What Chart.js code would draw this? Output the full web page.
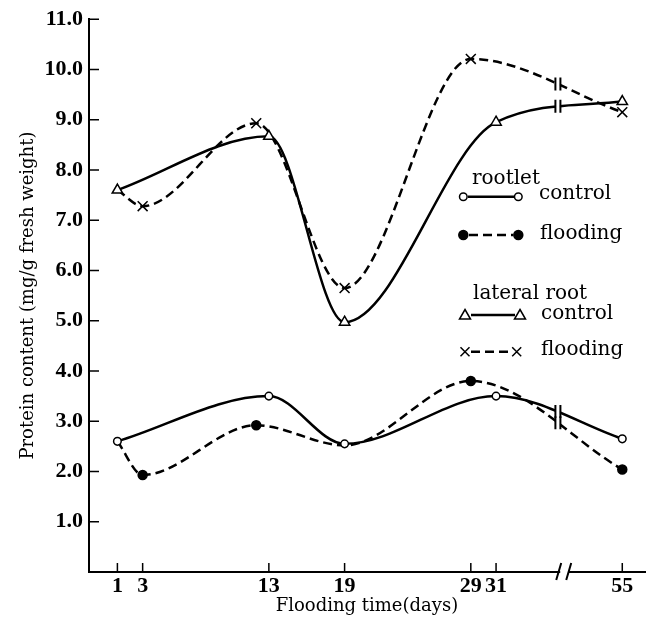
<!DOCTYPE html>
<html>
<head>
<meta charset="utf-8">
<script src="https://cdn.jsdelivr.net/npm/chart.js@4.4.1/dist/chart.umd.min.js"></script>
<style>
  body { margin: 0; background: #fff; }
  #wrap { width: 655px; height: 627px; }
</style>
</head>
<body>
<div id="wrap"><canvas id="chart"></canvas></div>
<script>
// sampling days and protein content (mg/g fresh weight)
const tickDays = [1, 3, 13, 19, 29, 31, 55];
const yTicks = [1, 2, 3, 4, 5, 6, 7, 8, 9, 10, 11];

const rootletControlDays = [1, 13, 19, 31, 55];
const rootletControl = [2.6, 3.5, 2.55, 3.5, 2.65];
const rootletFloodDays = [1, 3, 12, 19, 29, 55];
const rootletFlood = [2.6, 1.93, 2.92, 2.52, 3.8, 2.04];

const lateralControlDays = [1, 13, 19, 31, 55];
const lateralControl = [7.6, 8.67, 4.97, 8.95, 9.36];
const lateralFloodDays = [1, 3, 12, 19, 29, 55];
const lateralFlood = [7.6, 7.28, 8.93, 5.65, 10.21, 9.15];

// broken x axis: days after 35 are moved 14 days to the left
const breakAfter = 35, breakGap = 14;
const pos = d => d > breakAfter ? d - breakGap : d;
const toPoints = (days, vals) => days.map((d, i) => ({ x: pos(d), y: vals[i] }));

const serif = 'DejaVu Serif';
const tickFont = { family: 'Liberation Serif', size: 22, weight: 'bold' };

function bez(t, a, b, c, d) {
  const u = 1 - t;
  return u * u * u * a + 3 * u * u * t * b + 3 * u * t * t * c + t * t * t * d;
}

// y of the drawn curve at pixel px
function curveY(meta, px) {
  const pts = meta.data;
  for (let i = 0; i < pts.length - 1; i++) {
    const p0 = pts[i], p1 = pts[i + 1];
    if (px < p0.x || px > p1.x) continue;
    let lo = 0, hi = 1;
    for (let k = 0; k < 40; k++) {
      const mid = (lo + hi) / 2;
      if (bez(mid, p0.x, p0.cp2x, p1.cp1x, p1.x) < px) lo = mid; else hi = mid;
    }
    return bez(lo, p0.y, p0.cp2y, p1.cp1y, p1.y);
  }
  return null;
}

const decorations = {
  id: 'decorations',
  afterDraw(chart) {
    const { ctx, chartArea: a, scales: { x, y } } = chart;
    ctx.save();
    ctx.strokeStyle = '#000';
    ctx.fillStyle = '#000';

    // inward tick marks
    ctx.lineWidth = 1.5;
    ctx.beginPath();
    y.ticks.forEach(t => {
      const py = y.getPixelForValue(t.value);
      ctx.moveTo(a.left, py); ctx.lineTo(a.left + 10, py);
    });
    x.ticks.forEach(t => {
      const px = x.getPixelForValue(t.value);
      ctx.moveTo(px, a.bottom); ctx.lineTo(px, a.bottom - 9);
    });
    ctx.stroke();

    // break marks on the curves
    const lx = x.getPixelForValue(35.9);
    chart.data.datasets.forEach((ds, i) => {
      const cy = curveY(chart.getDatasetMeta(i), lx);
      if (cy === null) return;
      ctx.fillStyle = '#fff';
      ctx.fillRect(lx - 2, cy - 4, 4, 8);
      ctx.lineWidth = 2;
      ctx.beginPath();
      ctx.moveTo(lx - 2.5, cy - 6.5); ctx.lineTo(lx - 2.5, cy + 6.5);
      ctx.moveTo(lx + 2.5, cy - 6.5); ctx.lineTo(lx + 2.5, cy + 6.5);
      ctx.stroke();
    });

    // break on the x axis
    const ax = x.getPixelForValue(36.4), ay = a.bottom;
    ctx.fillStyle = '#fff';
    ctx.fillRect(ax - 4, ay - 3, 8, 6);
    ctx.lineWidth = 2;
    ctx.beginPath();
    ctx.moveTo(ax - 8, ay + 8); ctx.lineTo(ax - 3, ay - 9);
    ctx.moveTo(ax + 2, ay + 8); ctx.lineTo(ax + 7, ay - 9);
    ctx.stroke();

    // legend
    const circle = (cx, cy, filled) => {
      ctx.beginPath();
      ctx.arc(cx, cy, filled ? 4.5 : 3.8, 0, Math.PI * 2);
      ctx.fillStyle = filled ? '#000' : '#fff';
      ctx.fill();
      ctx.lineWidth = 1.5;
      ctx.stroke();
    };
    const triangle = (cx, cy) => {
      ctx.beginPath();
      ctx.moveTo(cx, cy - 5.5);
      ctx.lineTo(cx + 5.5, cy + 4);
      ctx.lineTo(cx - 5.5, cy + 4);
      ctx.closePath();
      ctx.fillStyle = '#fff';
      ctx.fill();
      ctx.lineWidth = 1.5;
      ctx.stroke();
    };
    const cross = (cx, cy) => {
      ctx.lineWidth = 1.5;
      ctx.beginPath();
      ctx.moveTo(cx - 4.5, cy - 4.5); ctx.lineTo(cx + 4.5, cy + 4.5);
      ctx.moveTo(cx + 4.5, cy - 4.5); ctx.lineTo(cx - 4.5, cy + 4.5);
      ctx.stroke();
    };
    const sample = (x0, x1, yy, dashed) => {
      ctx.lineWidth = 2.5;
      ctx.setLineDash(dashed ? [9, 5] : []);
      ctx.beginPath();
      ctx.moveTo(x0, yy); ctx.lineTo(x1, yy);
      ctx.stroke();
      ctx.setLineDash([]);
    };

    sample(468, 514, 196.7, false); circle(463.3, 196.7, false); circle(518.3, 196.7, false);
    sample(469, 513, 235, true); circle(463.3, 235, true); circle(518.3, 235, true);
    sample(471, 515, 315, false); triangle(465, 315); triangle(520, 315);
    sample(471, 512, 351.7, true); cross(465, 351.7); cross(516.7, 351.7);

    ctx.fillStyle = '#000';
    ctx.font = '20px "' + serif + '"';
    ctx.textBaseline = 'alphabetic';
    ctx.fillText('rootlet', 472, 184);
    ctx.fillText('control', 539, 199);
    ctx.fillText('flooding', 540, 239);
    ctx.fillText('lateral root', 473, 299);
    ctx.fillText('control', 541, 319);
    ctx.fillText('flooding', 541, 355);
    ctx.restore();
  }
};

const solid = { borderColor: '#000', borderWidth: 2.5, pointBorderColor: '#000', pointBorderWidth: 1.5,
  pointBackgroundColor: '#fff', cubicInterpolationMode: 'monotone', fill: false };
const dashed = Object.assign({}, solid, { borderDash: [9, 5] });

new Chart(document.getElementById('chart'), {
  type: 'line',
  data: {
    datasets: [
      Object.assign({}, solid, {
        label: 'rootlet control',
        data: toPoints(rootletControlDays, rootletControl),
        pointStyle: 'circle', pointRadius: 3.8
      }),
      Object.assign({}, dashed, {
        label: 'rootlet flooding',
        data: toPoints(rootletFloodDays, rootletFlood),
        pointStyle: 'circle', pointBackgroundColor: '#000',
        pointRadius: rootletFloodDays.map(d => (d === 1 || d === 19) ? 0 : 4.5)
      }),
      Object.assign({}, solid, {
        label: 'lateral root control',
        data: toPoints(lateralControlDays, lateralControl),
        pointStyle: 'triangle', pointRadius: 6
      }),
      Object.assign({}, dashed, {
        label: 'lateral root flooding',
        data: toPoints(lateralFloodDays, lateralFlood),
        pointStyle: 'crossRot',
        pointRadius: lateralFloodDays.map(d => d === 1 ? 0 : 7)
      })
    ]
  },
  options: {
    responsive: true,
    maintainAspectRatio: false,
    animation: false,
    layout: { padding: { top: 17, right: 10, left: 0, bottom: 0 } },
    plugins: {
      legend: { display: false },
      tooltip: { enabled: false }
    },
    scales: {
      x: {
        type: 'linear',
        min: -1.25,
        max: 42.8,
        grid: { display: false, drawTicks: false },
        border: { display: true, color: '#000', width: 2 },
        afterBuildTicks: scale => { scale.ticks = tickDays.map(d => ({ value: pos(d) })); },
        afterFit: scale => { scale.height = 55; },
        ticks: {
          autoSkip: false,
          maxRotation: 0,
          padding: 1,
          color: '#000',
          font: tickFont,
          callback: value => {
            const i = tickDays.findIndex(d => pos(d) === value);
            return i >= 0 ? String(tickDays[i]) : '';
          }
        },
        title: {
          display: true,
          text: 'Flooding time(days)',
          color: '#000',
          font: { family: serif, size: 18 },
          padding: { top: 0, bottom: 10 }
        }
      },
      y: {
        min: 0,
        max: 11,
        grid: { display: false, drawTicks: false },
        border: { display: true, color: '#000', width: 2 },
        afterBuildTicks: scale => { scale.ticks = yTicks.map(v => ({ value: v })); },
        afterFit: scale => { scale.width = 89; },
        ticks: {
          padding: 6,
          color: '#000',
          font: tickFont,
          callback: value => value.toFixed(1)
        },
        title: {
          display: true,
          text: 'Protein content (mg/g fresh weight)',
          color: '#000',
          font: { family: serif, size: 18 },
          padding: { top: 18, bottom: 0 }
        }
      }
    }
  },
  plugins: [decorations]
});
</script>
</body>
</html>
